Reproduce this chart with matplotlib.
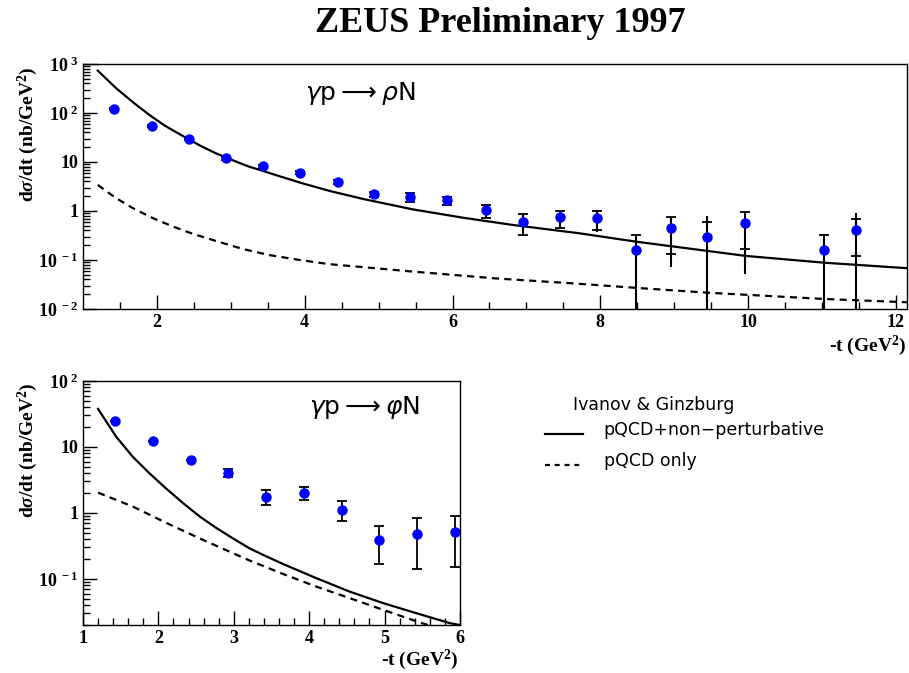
import matplotlib
matplotlib.use("Agg")
import matplotlib.pyplot as plt
from matplotlib.lines import Line2D
from matplotlib.ticker import FixedLocator, LogLocator, NullFormatter
import numpy as np

plt.rcParams['mathtext.fontset'] = 'custom'
plt.rcParams['mathtext.rm'] = 'Liberation Serif:bold'
plt.rcParams['mathtext.it'] = 'Liberation Serif:bold:italic'
plt.rcParams['mathtext.bf'] = 'Liberation Serif:bold'

SERIF = 'Liberation Serif'
SANS = ['DejaVu Sans']
DASH = (3.2, 2.4)

# ---- rho data (top panel) ----
rho_t = [1.42, 1.93, 2.43, 2.93, 3.43, 3.93, 4.45, 4.94, 5.43, 5.93,
         6.45, 6.95, 7.45, 7.95, 8.48, 8.95, 9.45, 9.96, 11.03, 11.46]
rho_y = [121, 54, 29.7, 11.9, 8.1, 6.1, 3.96, 2.19, 1.96, 1.65,
         1.03, 0.60, 0.74, 0.73, 0.16, 0.44, 0.29, 0.57, 0.16, 0.41]
rho_tot_hi = [126, 57, 31.5, 12.8, 8.7, 6.6, 4.3, 2.45, 2.30, 1.96,
              1.32, 0.89, 1.01, 1.05, 0.33, 0.77, 0.79, 1.0, 0.34, 0.90]
rho_tot_lo = [116, 51, 28, 11.1, 7.5, 5.6, 3.6, 1.95, 1.55, 1.31,
              0.73, 0.316, 0.46, 0.38, 1e-3, 0.073, 1e-3, 0.051, 1e-3, 1e-3]
rho_stat_hi = [126, 57, 31.5, 12.8, 8.7, 6.6, 4.3, 2.45, 2.30, 1.96,
               1.32, 0.87, 1.01, 1.0, 0.32, 0.77, 0.59, 0.97, 0.33, 0.70]
rho_stat_lo = [116, 51, 28, 11.1, 7.5, 5.6, 3.6, 1.95, 1.55, 1.31,
               0.73, 0.33, 0.46, 0.40, 1e-3, 0.13, 1e-3, 0.168, 1e-3, 0.12]

# Ivanov & Ginzburg curves, rho
rho_full_t = [1.2, 1.45, 1.7, 1.9, 2.1, 2.35, 2.6, 2.8, 3.05, 3.25, 3.39, 3.7, 3.97,
              4.34, 4.79, 5.46, 6.14, 6.81, 7.72, 8.48, 9.45, 9.97, 11.03, 12.15]
rho_full = [730, 319, 155, 91, 56, 34, 21, 15, 10.5, 8.0, 6.9, 4.9, 3.67,
            2.56, 1.76, 1.08, 0.73, 0.52, 0.35, 0.237, 0.153, 0.121, 0.088, 0.068]
rho_pqcd_t = [1.2, 1.45, 1.68, 1.95, 2.22, 2.49, 2.8, 3.16, 3.52, 3.93, 4.34,
              5.46, 6.59, 7.67, 8.48, 9.45, 11.03, 12.15]
rho_pqcd = [3.4, 1.82, 1.13, 0.71, 0.48, 0.34, 0.244, 0.168, 0.126, 0.10, 0.082,
            0.058, 0.042, 0.033, 0.027, 0.0215, 0.016, 0.0137]

# ---- phi data (bottom panel) ----
phi_t = [1.42, 1.93, 2.43, 2.93, 3.43, 3.93, 4.43, 4.93, 5.43, 5.93]
phi_y = [25, 12.4, 6.3, 4.1, 1.75, 2.03, 1.12, 0.395, 0.487, 0.522]
phi_hi = [25, 12.4, 6.3, 4.6, 2.2, 2.47, 1.5, 0.63, 0.85, 0.90]
phi_lo = [25, 12.4, 6.3, 3.5, 1.34, 1.57, 0.76, 0.168, 0.143, 0.151]

phi_full_t = [1.2, 1.44, 1.66, 1.88, 2.1, 2.33, 2.55, 2.77, 2.99, 3.21, 3.43,
              3.66, 4.1, 4.54, 4.98, 5.43, 5.87, 6.0]
phi_full = [37.7, 14.3, 7.1, 4.0, 2.36, 1.40, 0.88, 0.59, 0.41, 0.29, 0.22,
            0.167, 0.102, 0.064, 0.043, 0.030, 0.0213, 0.020]
phi_pqcd_t = [1.2, 1.66, 2.1, 2.55, 2.99, 3.21, 3.66, 4.1, 4.54, 4.98, 5.43, 5.7]
phi_pqcd = [2.03, 1.25, 0.71, 0.41, 0.245, 0.19, 0.118, 0.076, 0.051, 0.034, 0.0226, 0.018]


def style_axis(ax, xmaj, xmin):
    ax.set_yscale('log')
    ax.xaxis.set_major_locator(FixedLocator(xmaj))
    ax.xaxis.set_minor_locator(FixedLocator(xmin))
    ax.yaxis.set_minor_locator(LogLocator(base=10, subs=np.arange(2, 10)))
    ax.yaxis.set_minor_formatter(NullFormatter())
    ax.tick_params(which='both', direction='in', top=False, right=False, width=1)
    ax.tick_params(which='major', length=10)
    ax.tick_params(which='minor', length=5)
    for lab in ax.get_xticklabels():
        lab.set_fontfamily(SERIF)
        lab.set_fontweight('bold')
        lab.set_fontsize(13)
    for sp in ax.spines.values():
        sp.set_linewidth(1.0)


def ylabels(ax, decades):
    ax.yaxis.set_major_locator(FixedLocator([10.0 ** d for d in decades]))
    labs = []
    for d in decades:
        if d == 0:
            labs.append('1')
        elif d == 1:
            labs.append('10')
        else:
            labs.append(r'$10^{\ %d}$' % d)
    ax.set_yticklabels(labs, fontfamily=SERIF, fontweight='bold', fontsize=13)


fig = plt.figure(figsize=(9.09, 6.73), dpi=100)
fig.text(0.55, 0.965, 'ZEUS Preliminary 1997', ha='center', va='center',
         fontfamily=SERIF, fontweight='bold', fontsize=26)

# top panel
ax1 = fig.add_axes([0.0913, 0.5409, 0.9065, 0.3640])
ax1.plot(rho_full_t, rho_full, color='black', lw=1.6)
ax1.plot(rho_pqcd_t, rho_pqcd, color='black', lw=1.6, dashes=DASH)
ax1.vlines(rho_t, rho_tot_lo, rho_tot_hi, color='black', lw=1.5)
ax1.plot(rho_t, rho_stat_hi, ls='none', marker='_', ms=7, mew=1.3, color='black')
ax1.plot(rho_t, rho_stat_lo, ls='none', marker='_', ms=7, mew=1.3, color='black')
ax1.plot(rho_t, rho_y, ls='none', marker='o', ms=6.5, color='blue', mec='blue')
ax1.set_xlim(1.0, 12.15)
ax1.set_ylim(1e-2, 1e3)
style_axis(ax1, [2, 4, 6, 8, 10, 12], np.arange(1.5, 12.1, 0.5))
ylabels(ax1, [-2, -1, 0, 1, 2, 3])
ax1.text(0.27, 0.88, r'$\gamma\mathrm{p}\longrightarrow\rho\mathrm{N}$', transform=ax1.transAxes,
         math_fontfamily='dejavusans', fontsize=18, va='center')
fig.text(0.031, 0.902, r'd$\sigma$/dt (nb/GeV$^{2}$)', rotation=90, ha='center', va='top',
         fontfamily=SERIF, fontweight='bold', fontsize=14)
fig.text(0.997, 0.486, r'-t (GeV$^{2}$)', ha='right', va='center',
         fontfamily=SERIF, fontweight='bold', fontsize=14)

# bottom panel
ax2 = fig.add_axes([0.0913, 0.0713, 0.4147, 0.3626])
ax2.plot(phi_full_t, phi_full, color='black', lw=1.6)
ax2.plot(phi_pqcd_t, phi_pqcd, color='black', lw=1.6, dashes=DASH)
ax2.errorbar(phi_t, phi_y,
             yerr=[np.array(phi_y) - np.array(phi_lo), np.array(phi_hi) - np.array(phi_y)],
             ls='none', marker='o', ms=6.5, color='blue', mec='blue',
             ecolor='black', elinewidth=1.3, capsize=3.5, capthick=1.3)
ax2.set_xlim(1.0, 6.0)
ax2.set_ylim(0.02, 100)
style_axis(ax2, [1, 2, 3, 4, 5, 6], np.arange(1.2, 6.0, 0.2))
ylabels(ax2, [-1, 0, 1, 2])
ax2.text(0.60, 0.89, r'$\gamma\mathrm{p}\longrightarrow\varphi\mathrm{N}$', transform=ax2.transAxes,
         math_fontfamily='dejavusans', fontsize=18, va='center')
fig.text(0.031, 0.432, r'd$\sigma$/dt (nb/GeV$^{2}$)', rotation=90, ha='center', va='top',
         fontfamily=SERIF, fontweight='bold', fontsize=14)
fig.text(0.504, 0.020, r'-t (GeV$^{2}$)', ha='right', va='center',
         fontfamily=SERIF, fontweight='bold', fontsize=14)

# legend
fig.text(0.630, 0.398, 'Ivanov & Ginzburg', fontfamily=SANS, fontsize=12.5, va='center')
fig.add_artist(Line2D([0.600, 0.641], [0.355, 0.355], color='black', lw=1.6))
fig.add_artist(Line2D([0.600, 0.641], [0.309, 0.309], color='black', lw=1.6, dashes=(2.2, 2.2)))
fig.text(0.664, 0.361, 'pQCD+non\u2212perturbative', fontfamily=SANS, fontsize=12.5, va='center')
fig.text(0.664, 0.315, 'pQCD only', fontfamily=SANS, fontsize=12.5, va='center')

fig.savefig('out.png', dpi=100)
